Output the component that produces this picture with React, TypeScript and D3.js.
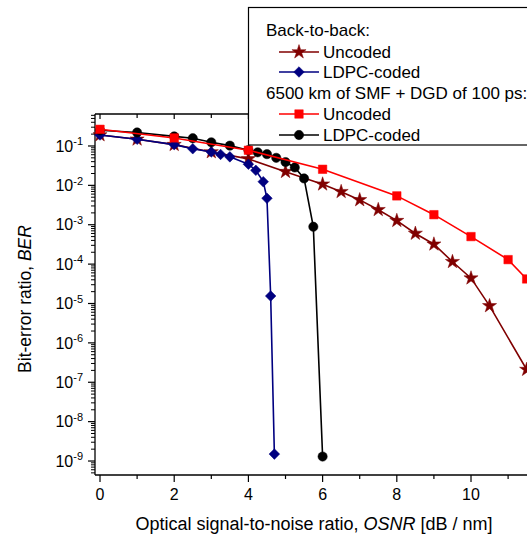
import React from "react";
import * as d3 from "d3";

// ---- data ----
const b2bUncodedX = [0, 1, 2, 3, 4, 5, 6, 6.5, 7, 7.5, 8, 8.5, 9, 9.5, 10, 10.5, 11.5];
const b2bUncodedY = [0.19, 0.148, 0.108, 0.0705, 0.047, 0.0223, 0.0107, 0.0069, 0.00427, 0.0024, 0.00127, 6.0e-4, 3.2e-4, 1.15e-4, 4.4e-5, 8.7e-6, 2.1e-7];

const b2bLdpcX = [0, 1, 2, 2.5, 3, 3.25, 3.5, 4, 4.2, 4.4, 4.5, 4.6, 4.7];
const b2bLdpcY = [0.19, 0.148, 0.108, 0.085, 0.0705, 0.061, 0.053, 0.0344, 0.0241, 0.0124, 0.0047, 1.55e-5, 1.5e-9];

const smfUncodedX = [0, 2, 4, 6, 8, 9, 10, 11, 11.5];
const smfUncodedY = [0.265, 0.16, 0.078, 0.0256, 0.0054, 0.0018, 5.0e-4, 1.3e-4, 4.2e-5];

const smfLdpcX = [0, 1, 2, 2.5, 3, 3.5, 4, 4.25, 4.5, 4.75, 5, 5.25, 5.5, 5.75, 6];
const smfLdpcY = [0.25, 0.22, 0.175, 0.157, 0.124, 0.102, 0.078, 0.069, 0.062, 0.05, 0.039, 0.0285, 0.015, 8.9e-4, 1.3e-9];

const xTicksMajor = [0, 2, 4, 6, 8, 10];
const xTicksMinor = [1, 3, 5, 7, 9, 11];
const yExponents = [-1, -2, -3, -4, -5, -6, -7, -8, -9];

const legendHeader1 = "Back-to-back:";
const legendHeader2 = "6500 km of SMF + DGD of 100 ps:";
const legendLabels = ["Uncoded", "LDPC-coded", "Uncoded", "LDPC-coded"];

// ---- layout ----
const W = 527, H = 537;
const left = 95, top = 114, bottom = 475;
const pxPerUnit = 37.1;
const xMin = -0.135, xMax = 12.4;

const FONT = "Liberation Sans, Arial, sans-serif";

type Series = { xs: number[]; ys: number[]; color: string; marker: string };

export default function App() {
  const x = d3.scaleLinear().domain([xMin, xMax]).range([left, left + pxPerUnit * (xMax - xMin)]);
  const y = d3.scaleLog().domain([Math.pow(10, -9.355), Math.pow(10, -0.188)]).range([bottom, top]);
  const right = x(xMax);

  const series: Series[] = [
    { xs: b2bUncodedX, ys: b2bUncodedY, color: "#800000", marker: "star" },
    { xs: b2bLdpcX, ys: b2bLdpcY, color: "#000080", marker: "diamond" },
    { xs: smfLdpcX, ys: smfLdpcY, color: "#000000", marker: "circle" },
    { xs: smfUncodedX, ys: smfUncodedY, color: "#ff0000", marker: "square" },
  ];

  const line = d3.line<[number, number]>().x(d => x(d[0])).y(d => y(d[1]));

  const markerPath = (m: string) => {
    if (m === "star") return d3.symbol(d3.symbolStar, 62)()!;
    if (m === "circle") return d3.symbol(d3.symbolCircle, 68)()!;
    if (m === "square") return d3.symbol(d3.symbolSquare, 72)()!;
    return d3.symbol(d3.symbolSquare, 56)()!;
  };
  const markerRot = (m: string) => (m === "diamond" ? 45 : 0);

  const drawMarker = (m: string, cx: number, cy: number, color: string, key: string | number) => (
    <path key={key} d={markerPath(m)} transform={`translate(${cx},${cy}) rotate(${markerRot(m)})`} fill={color} stroke={color} strokeWidth={0.5} />
  );

  // minor y ticks
  const yMinor: number[] = [];
  for (let e = -10; e <= 0; e++) {
    for (let k = 2; k <= 9; k++) {
      const v = k * Math.pow(10, e);
      if (y(v) <= bottom && y(v) >= top) yMinor.push(v);
    }
  }

  const legendOrderIdx = [0, 1, 3, 2];
  const legendYs = [52, 72, 114, 135];

  return (
    <svg width={W} height={H} style={{ position: "absolute", left: 0, top: 0, background: "#fff" }} fontFamily={FONT}>
      <rect x={0} y={0} width={W} height={H} fill="#fff" />
      {/* axes frame */}
      <line x1={left} y1={top} x2={right} y2={top} stroke="#000" strokeWidth={1.3} />
      <line x1={left} y1={bottom} x2={right} y2={bottom} stroke="#000" strokeWidth={1.3} />
      <line x1={left} y1={top} x2={left} y2={bottom} stroke="#000" strokeWidth={1.3} />
      <line x1={right} y1={top} x2={right} y2={bottom} stroke="#000" strokeWidth={1.3} />

      {/* x ticks */}
      {xTicksMajor.map(t => (
        <g key={"xm" + t}>
          <line x1={x(t)} x2={x(t)} y1={bottom} y2={bottom + 7} stroke="#000" strokeWidth={1.2} />
          <line x1={x(t)} x2={x(t)} y1={top} y2={top + 5} stroke="#000" strokeWidth={1.2} />
          <text x={x(t)} y={500} textAnchor="middle" fontSize={16}>{t}</text>
        </g>
      ))}
      {xTicksMinor.map(t => (
        <g key={"xn" + t}>
          <line x1={x(t)} x2={x(t)} y1={bottom} y2={bottom + 4} stroke="#000" strokeWidth={1.2} />
          <line x1={x(t)} x2={x(t)} y1={top} y2={top + 4} stroke="#000" strokeWidth={1.2} />
        </g>
      ))}

      {/* y ticks */}
      {yExponents.map(e => (
        <g key={"ym" + e}>
          <line x1={left - 7} x2={left} y1={y(Math.pow(10, e))} y2={y(Math.pow(10, e))} stroke="#000" strokeWidth={1.2} />
          <text x={83} y={y(Math.pow(10, e)) + 5.7} textAnchor="end" fontSize={16}>
            10<tspan fontSize={11} dy={-6.5}>{String(e)}</tspan>
          </text>
        </g>
      ))}
      {yMinor.map((v, i) => (
        <line key={"yn" + i} x1={left - 4} x2={left} y1={y(v)} y2={y(v)} stroke="#000" strokeWidth={1} />
      ))}

      {/* series */}
      {series.map((s, si) => {
        const pts = s.xs.map((xv, i) => [xv, s.ys[i]] as [number, number]);
        return (
          <g key={"s" + si}>
            <path d={line(pts)!} fill="none" stroke={s.color} strokeWidth={1.6} />
            {pts.map((p, i) => drawMarker(s.marker, x(p[0]), y(p[1]), s.color, i))}
          </g>
        );
      })}

      {/* axis titles */}
      <text x={314} y={530} textAnchor="middle" fontSize={18}>
        Optical signal-to-noise ratio, <tspan fontStyle="italic">OSNR</tspan> [dB / nm]
      </text>
      <text transform={`translate(31,299) rotate(-90)`} textAnchor="middle" fontSize={17.5}>
        Bit-error ratio, <tspan fontStyle="italic">BER</tspan>
      </text>

      {/* legend */}
      <rect x={248.5} y={7.5} width={300} height={137.5} fill="#fff" stroke="#000" strokeWidth={1.2} />
      <text x={266} y={36} fontSize={17}>{legendHeader1}</text>
      <text x={266} y={99} fontSize={17}>{legendHeader2}</text>
      {legendOrderIdx.map((si, k) => {
        const s = series[si];
        const ly = legendYs[k];
        return (
          <g key={"lg" + k}>
            <line x1={279} x2={319} y1={ly} y2={ly} stroke={s.color} strokeWidth={1.6} />
            {drawMarker(s.marker, 299, ly, s.color, "m")}
            <text x={323} y={ly + 6} fontSize={17}>{legendLabels[k]}</text>
          </g>
        );
      })}
    </svg>
  );
}
